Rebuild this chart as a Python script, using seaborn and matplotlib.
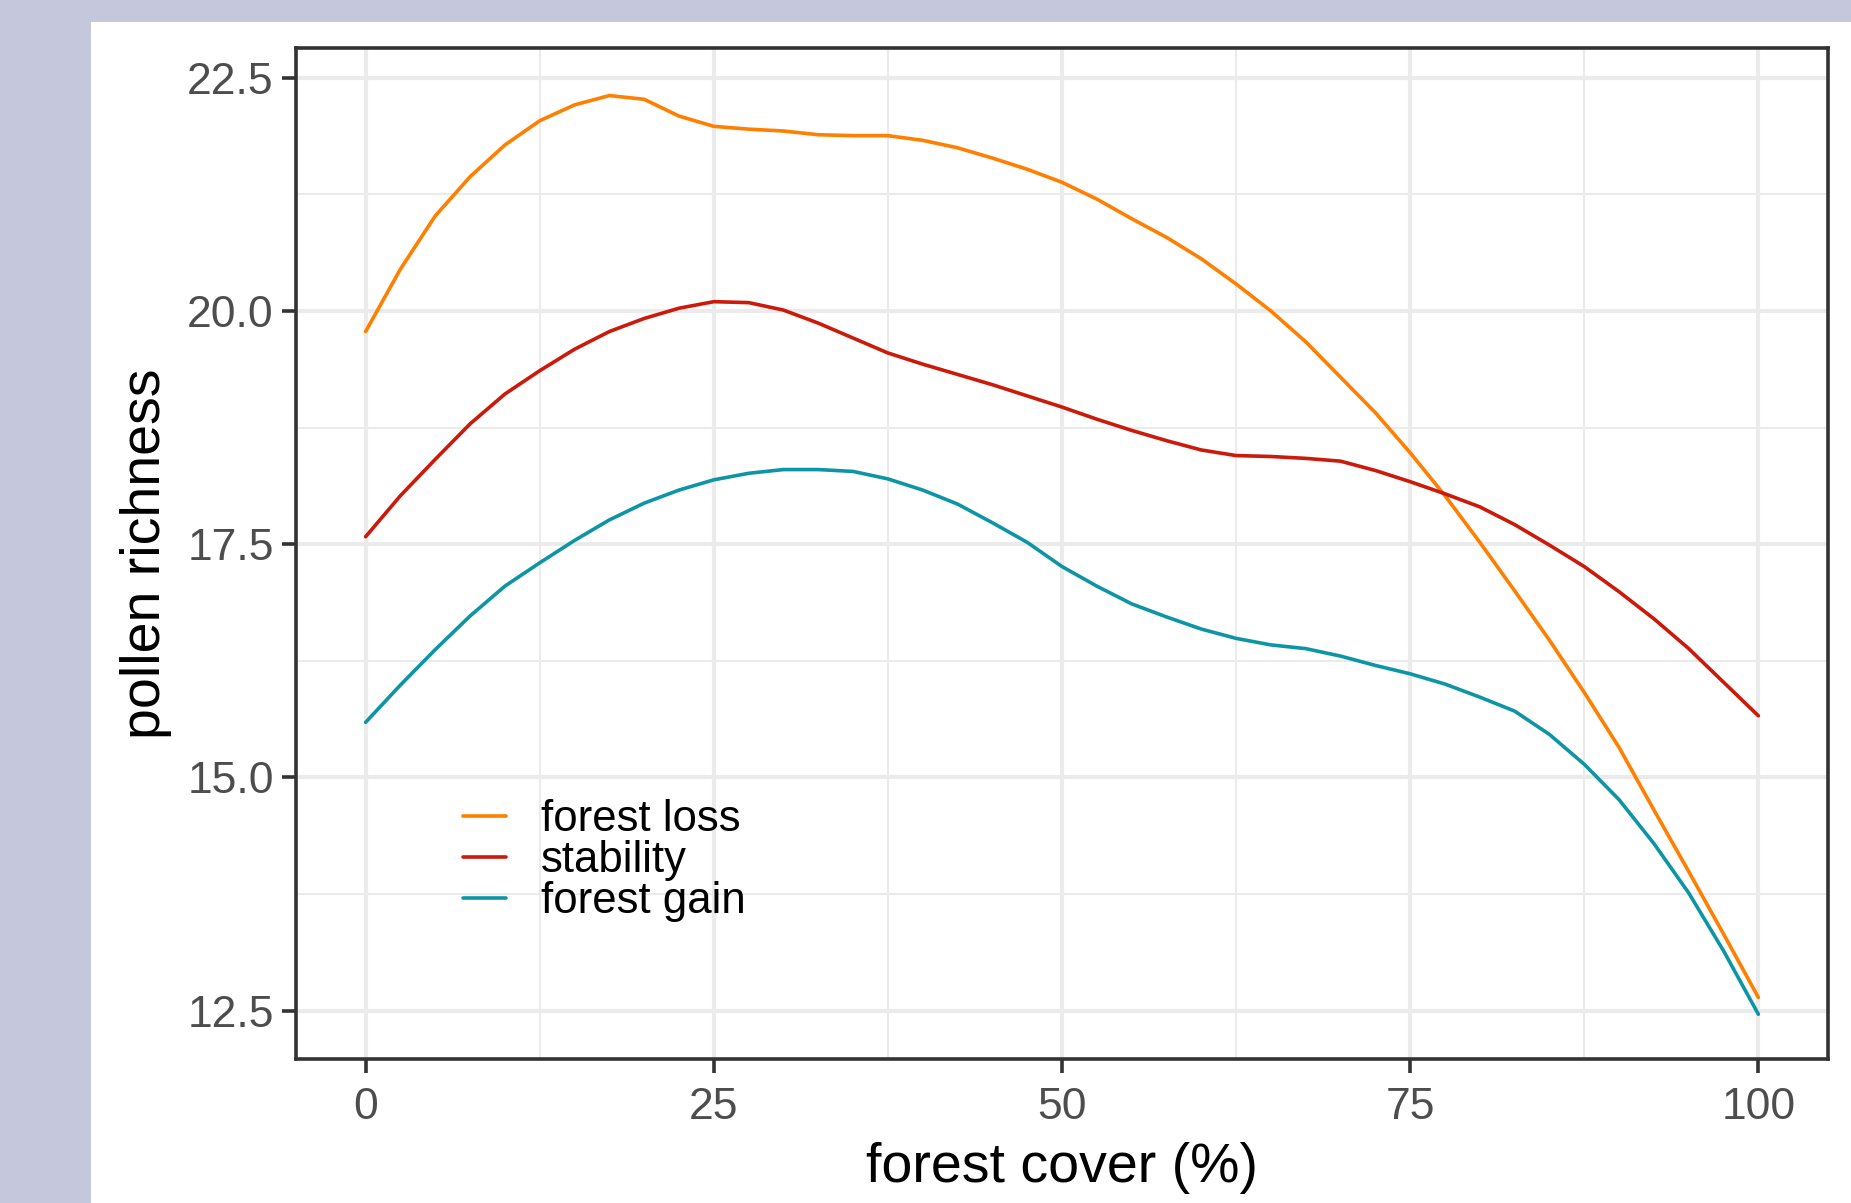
import numpy as np
import pandas as pd
import seaborn as sns
import matplotlib.pyplot as plt
from matplotlib.patches import Rectangle
from matplotlib.ticker import MultipleLocator

# forest cover (%) at which the curves were read
cover = [0, 2.5, 5, 7.5, 10, 12.5, 15, 17.5, 20, 22.5, 25, 27.5, 30, 32.5, 35, 37.5, 40,
         42.5, 45, 47.5, 50, 52.5, 55, 57.5, 60, 62.5, 65, 67.5, 70, 72.5, 75, 77.5, 80,
         82.5, 85, 87.5, 90, 92.5, 95, 97.5, 100]

# pollen richness per scenario
forest_loss = [19.78, 20.45, 21.02, 21.44, 21.78, 22.04, 22.21, 22.31, 22.27, 22.09, 21.98,
               21.95, 21.93, 21.89, 21.88, 21.88, 21.83, 21.75, 21.64, 21.52, 21.38, 21.20,
               20.99, 20.79, 20.56, 20.29, 20.00, 19.67, 19.29, 18.91, 18.48, 18.02, 17.52,
               17.00, 16.47, 15.91, 15.32, 14.65, 13.99, 13.32, 12.64]
stability = [17.58, 18.02, 18.41, 18.79, 19.11, 19.36, 19.59, 19.78, 19.92, 20.03, 20.10,
             20.09, 20.01, 19.87, 19.71, 19.55, 19.43, 19.32, 19.21, 19.09, 18.97, 18.84,
             18.72, 18.61, 18.51, 18.45, 18.44, 18.42, 18.39, 18.29, 18.17, 18.04, 17.90,
             17.71, 17.49, 17.26, 16.99, 16.70, 16.38, 16.02, 15.66]
forest_gain = [15.59, 15.99, 16.37, 16.73, 17.05, 17.30, 17.54, 17.76, 17.94, 18.08, 18.19,
               18.26, 18.30, 18.30, 18.28, 18.20, 18.08, 17.93, 17.73, 17.52, 17.26, 17.05,
               16.86, 16.72, 16.59, 16.49, 16.42, 16.38, 16.30, 16.20, 16.11, 16.00, 15.86,
               15.71, 15.46, 15.14, 14.76, 14.29, 13.76, 13.14, 12.46]

scenarios = ["forest loss", "stability", "forest gain"]
colors = ["#FF7F00", "#CC1A0A", "#0E95A5"]

df = pd.concat([
    pd.DataFrame({"cover": cover, "richness": forest_loss, "scenario": "forest loss"}),
    pd.DataFrame({"cover": cover, "richness": stability, "scenario": "stability"}),
    pd.DataFrame({"cover": cover, "richness": forest_gain, "scenario": "forest gain"}),
])

sns.set_theme(style="white")
plt.rcParams['font.family'] = ['Liberation Sans', 'DejaVu Sans']

fig = plt.figure(figsize=(18.51, 12.03), dpi=100)
fig.patch.set_facecolor("#C5C8DC")
# white plot panel, the lavender strip shows on the left and top
panel = Rectangle((91 / 1851, 0), 1, (1203 - 22) / 1203, transform=fig.transFigure,
                  facecolor="white", edgecolor="none", zorder=-10)
fig.add_artist(panel)

ax = fig.add_axes([296 / 1851, 144 / 1203, (1828 - 296) / 1851, (1059 - 48) / 1203])
ax.set_facecolor("white")

sns.lineplot(data=df, x="cover", y="richness", hue="scenario", hue_order=scenarios,
             palette=colors, linewidth=2.6, ax=ax, zorder=3)

ax.set_xlim(-5, 105)
ax.set_ylim(11.98, 22.82)
ax.xaxis.set_major_locator(MultipleLocator(25))
ax.xaxis.set_minor_locator(MultipleLocator(12.5))
ax.yaxis.set_major_locator(MultipleLocator(2.5))
ax.yaxis.set_minor_locator(MultipleLocator(1.25))
ax.set_yticks([12.5, 15.0, 17.5, 20.0, 22.5])
ax.set_yticklabels(["12.5", "15.0", "17.5", "20.0", "22.5"])

ax.grid(which="major", color="#EBEBEB", linewidth=3.0, zorder=0)
ax.grid(which="minor", color="#EBEBEB", linewidth=1.5, zorder=0)
ax.set_axisbelow(True)

for s in ax.spines.values():
    s.set_color("#333333")
    s.set_linewidth(2.6)

ax.tick_params(which="major", length=10, width=2.6, color="#333333",
               labelsize=32, labelcolor="#4D4D4D", pad=6, bottom=True, left=True)
ax.tick_params(axis="x", which="major", pad=10)
ax.tick_params(which="minor", length=0)

ax.set_xlabel("forest cover (%)", fontsize=40, color="black", labelpad=10)
ax.set_ylabel("pollen richness", fontsize=40, color="black", labelpad=11)

leg = ax.legend(loc="upper left", bbox_to_anchor=(0.083, 0.296), frameon=False, fontsize=31.5,
                handlelength=1.0, handletextpad=0.8, labelspacing=0.0, title=None)
for line in leg.get_lines():
    line.set_linewidth(2.6)
for t in leg.get_texts():
    t.set_color("black")

fig.savefig("out.png", dpi=100, facecolor=fig.get_facecolor())
